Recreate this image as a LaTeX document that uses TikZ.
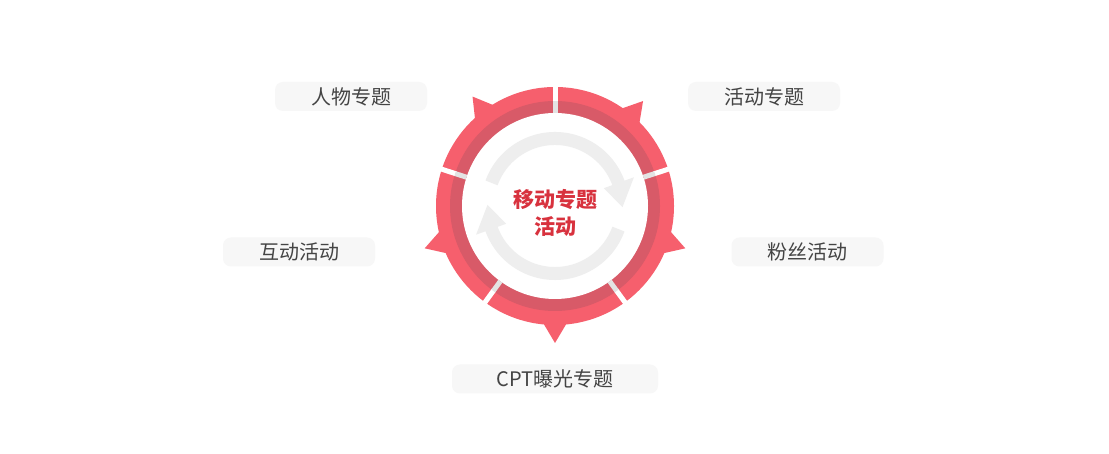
\documentclass[tikz,border=0pt]{standalone}
\usepackage{fontspec}
\newfontfamily\cjk{Noto Sans CJK SC}
\usetikzlibrary{calc}
\definecolor{ringred}{HTML}{F65F6D}
\definecolor{ringdark}{HTML}{D85A68}
\definecolor{titlered}{HTML}{D8323E}
\definecolor{arrowgray}{HTML}{EEEEEE}
\definecolor{gapgray}{HTML}{E3E3E3}
\definecolor{tagfill}{HTML}{F7F7F7}
\definecolor{tagtext}{HTML}{444444}

\tikzset{
  tag/.style={fill=tagfill, rounded corners=8pt, minimum height=29pt,
    inner sep=0pt, text=tagtext, font=\cjk\fontsize{20}{24}\selectfont},
}

\begin{document}
\begin{tikzpicture}[x=1pt, y=1pt]

% Background
\useasboundingbox (0,0) rectangle (1109,454);
\fill[white] (0,0) rectangle (1109,454);

\coordinate (hub) at (555,248);

% ================================================================
% Ring with five arrow tips
% ================================================================
\begin{scope}[shift={(hub)}]
  % Outer band
  \fill[ringred] (0,0) circle (119pt);
  \foreach \a in {127,50,-18,-90,198}
    \fill[ringred] (\a+6:117) -- (\a:137) -- (\a-6:117) -- cycle;

  % Inner darker band
  \fill[ringdark] (0,0) circle (105pt);
  \fill[white] (0,0) circle (93pt);

  % Gaps between the segments
  \foreach \a in {90,18,-54,-126,162} {
    \draw[white, line width=5pt] (\a:104) -- (\a:124);
    \draw[gapgray, line width=5pt] (\a:93) -- (\a:105);
  }

  % Grey cycle arrows
  \foreach \r in {0,180} {
    \begin{scope}[rotate=\r]
      \draw[arrowgray, line width=13pt]
        (160:67.5) arc[start angle=160, end angle=19, radius=67.5pt];
      \fill[arrowgray] (20:52) -- (20:84) -- (-1:67.5) -- cycle;
    \end{scope}
  }
\end{scope}

% Title in the middle
\node[text=titlered, font=\cjk\bfseries\fontsize{21}{27}\selectfont,
      align=center] (title) at (555,241) {移动专题\\活动};

% ================================================================
% Labels round the ring
% ================================================================
\node[tag, minimum width=152pt] (people)   at (351,357.5) {人物专题};
\node[tag, minimum width=152pt] (events)   at (764,357.5) {活动专题};
\node[tag, minimum width=152pt] (interact) at (299,202)   {互动活动};
\node[tag, minimum width=152pt] (fans)     at (807.5,202) {粉丝活动};
\node[tag, minimum width=206pt] (cpt)      at (555,75)    {CPT曝光专题};

\end{tikzpicture}
\end{document}
